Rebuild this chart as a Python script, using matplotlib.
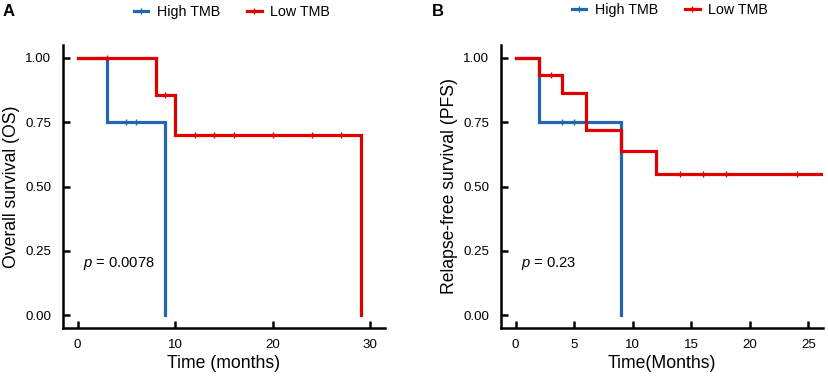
import matplotlib
matplotlib.use("Agg")
import matplotlib.pyplot as plt
from matplotlib.lines import Line2D
import numpy as np

plt.rcParams['font.family'] = ['Liberation Sans', 'DejaVu Sans']
plt.rcParams['mathtext.fontset'] = 'custom'
plt.rcParams['mathtext.it'] = 'Liberation Sans:italic'
plt.rcParams['mathtext.rm'] = 'Liberation Sans'

# Panel A: Overall survival
a_high_t = [0, 3, 9]
a_high_s = [1.00, 0.75, 0.00]
a_high_cens = [5, 6]
a_low_t = [0, 8, 10, 29]
a_low_s = [1.00, 0.857, 0.70, 0.00]
a_low_cens = [3, 9, 12, 14, 16, 20, 24, 27]

# Panel B: Relapse-free survival
b_high_t = [0, 2, 9]
b_high_s = [1.00, 0.75, 0.00]
b_high_cens = [4, 5]
b_low_t = [0, 2, 4, 6, 9, 12, 26.2]
b_low_s = [1.00, 0.933, 0.862, 0.718, 0.638, 0.547, 0.547]
b_low_cens = [3, 14, 16, 18, 24]

labels = ["High TMB", "Low TMB"]
blue = "#1f68b0"
red = "#e00000"

W, H = 829, 382
fig = plt.figure(figsize=(W / 100, H / 100), dpi=100)


def step_val(t, s, x):
    idx = np.searchsorted(t, x, side='right') - 1
    return np.array(s)[idx]


def panel(rect, hi_t, hi_s, hi_c, lo_t, lo_s, lo_c, xlim, xticks, xlabel, ylabel, ptext, letter, letter_x):
    l, b, r, t = rect
    ax = fig.add_axes([l / W, 1 - b / H, (r - l) / W, (b - t) / H])
    for (tt, ss, cc, col, z) in [(hi_t, hi_s, hi_c, blue, 3), (lo_t, lo_s, lo_c, red, 4)]:
        ax.step(tt, ss, where='post', color=col, lw=2.3, zorder=z, solid_joinstyle='miter')
        ax.plot(cc, step_val(tt, ss, cc), linestyle='none', marker='|', ms=5,
                mew=1.0, color=col, zorder=z)
    ax.set_xlim(*xlim)
    ax.set_ylim(-0.05, 1.05)
    ax.set_xticks(xticks)
    ax.set_yticks([0, 0.25, 0.5, 0.75, 1.0])
    ax.set_yticklabels(["0.00", "0.25", "0.50", "0.75", "1.00"])
    for side in ['top', 'right']:
        ax.spines[side].set_visible(False)
    for side in ['left', 'bottom']:
        ax.spines[side].set_linewidth(1.8)
    ax.tick_params(axis='both', direction='in', width=1.8, length=5, labelsize=9.6,
                   color='black')
    ax.tick_params(axis='y', pad=8.5)
    ax.tick_params(axis='x', pad=8)
    ax.set_xlabel(xlabel, fontsize=12.7, labelpad=3)
    ax.set_ylabel(ylabel, fontsize=12.7, labelpad=4)
    ax.text(0.062, 0.227, "$\\it{p}$ = " + ptext, transform=ax.transAxes,
            fontsize=10.6, va='center', ha='left')
    fig.text(letter_x / W, 1 - 11 / H, letter, fontsize=12, fontweight='bold', va='center', ha='left')
    handles = [Line2D([0], [0], color=blue, lw=2.3, marker='|', ms=5, mew=1.0),
               Line2D([0], [0], color=red, lw=2.3, marker='|', ms=5, mew=1.0)]
    return ax, handles


axA, hA = panel((63, 328, 385, 45), a_high_t, a_high_s, a_high_cens, a_low_t, a_low_s, a_low_cens,
                (-1.5, 31.5), [0, 10, 20, 30], "Time (months)", "Overall survival (OS)", "0.0078",
                "A", 3)
axB, hB = panel((501, 328, 823, 45), b_high_t, b_high_s, b_high_cens, b_low_t, b_low_s, b_low_cens,
                (-1.25, 26.25), [0, 5, 10, 15, 20, 25], "Time(Months)", "Relapse-free survival (PFS)", "0.23",
                "B", 432)

fig.legend(hA, labels, loc='center', bbox_to_anchor=(232 / W, 1 - 12 / H), ncol=2, frameon=False,
           fontsize=10.3, handlelength=1.0, handletextpad=0.6, columnspacing=1.9)
fig.legend(hB, labels, loc='center', bbox_to_anchor=(670 / W, 1 - 10 / H), ncol=2, frameon=False,
           fontsize=10.3, handlelength=1.0, handletextpad=0.6, columnspacing=1.9)

fig.savefig("out.png", dpi=100)
